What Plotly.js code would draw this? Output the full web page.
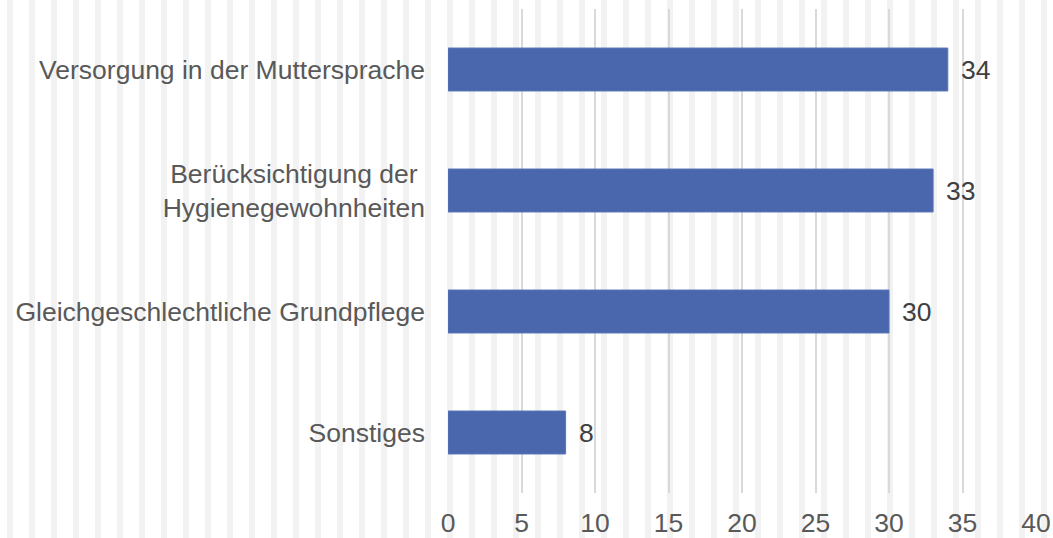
<!DOCTYPE html>
<html>
<head>
<meta charset="utf-8">
<script src="https://cdn.plot.ly/plotly-3.0.1.min.js"></script>
<style>
  html, body { margin: 0; padding: 0; }
  body {
    width: 1053px; height: 538px; overflow: hidden;
    background: repeating-linear-gradient(to right, #ffffff 0px, #ffffff 7px, #f2f2f2 7px, #f2f2f2 13px, #ffffff 13px, #ffffff 22px);
  }
  #chart { width: 1053px; height: 538px; }
</style>
</head>
<body>
<div id="chart"></div>
<script>
// Categories listed top to bottom
const categories = [
  "Versorgung in der Muttersprache",
  "Berücksichtigung der\u00a0<br>Hygienegewohnheiten",
  "Gleichgeschlechtliche Grundpflege",
  "Sonstiges"
];
const values = [34, 33, 30, 8];
const tickValues = [0, 5, 10, 15, 20, 25, 30, 35, 40];

const FONT = "'Liberation Sans', Arial, sans-serif";

const trace = {
  type: "bar",
  orientation: "h",
  y: categories,
  x: values,
  marker: { color: "#4a66ac", line: { color: "#5b76b8", width: 1 } },
  hoverinfo: "none"
};

const annotations = values.map((v, i) => ({
  x: v, y: categories[i], xref: "x", yref: "y",
  text: String(v), showarrow: false, xanchor: "left", yanchor: "middle",
  xshift: 11,
  font: { family: FONT, size: 26.5, color: "#404040" }
}));

const layout = {
  width: 1053, height: 538,
  margin: { l: 448, r: 17, t: 9, b: 45, pad: 0 },
  paper_bgcolor: "rgba(0,0,0,0)",
  plot_bgcolor: "rgba(0,0,0,0)",
  bargap: 0.645,
  showlegend: false,
  font: { family: FONT, size: 26.5, color: "#595959" },
  xaxis: {
    range: [0, 40],
    tickvals: tickValues,
    ticktext: tickValues.map(String),
    showgrid: true, gridcolor: "#d9d9d9", gridwidth: 2,
    zeroline: false, showline: false, ticks: "",
    ticklabelstandoff: 11,
    tickfont: { family: FONT, size: 26.5, color: "#595959" },
    fixedrange: true
  },
  yaxis: {
    type: "category",
    autorange: "reversed",
    showgrid: false, zeroline: false, showline: false, ticks: "",
    ticklabelstandoff: 22,
    tickfont: { family: FONT, size: 26.5, color: "#595959" },
    fixedrange: true
  },
  annotations: annotations
};

Plotly.newPlot("chart", [trace], layout, { displayModeBar: false, staticPlot: true });
</script>
</body>
</html>
